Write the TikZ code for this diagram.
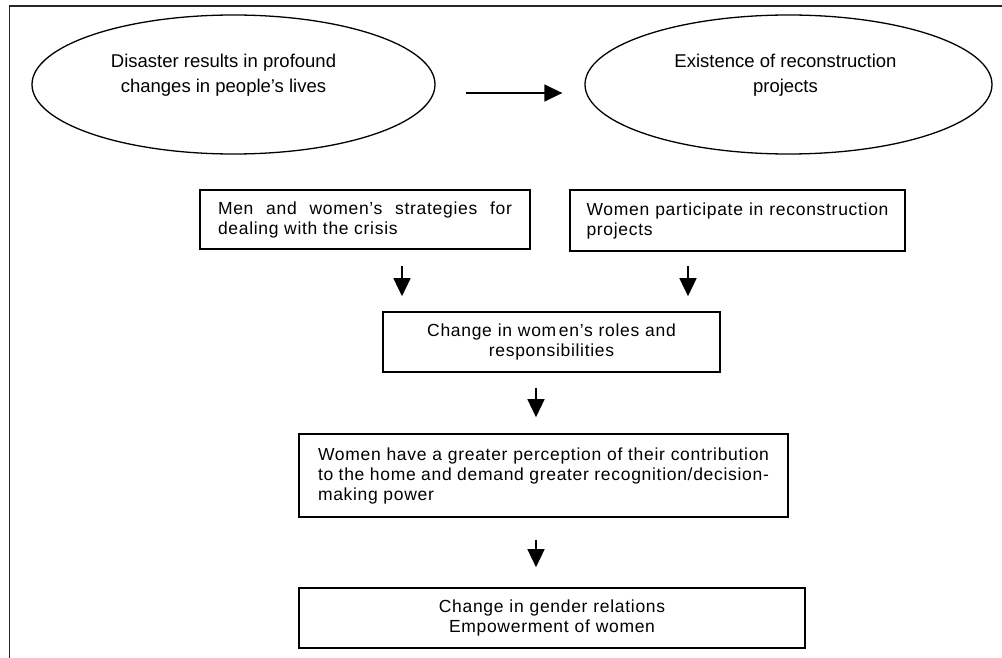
\documentclass[tikz,border=0pt]{standalone}
\usepackage{fontspec}
\setmainfont{Liberation Sans}
\newfontfamily\boxfont[LetterSpace=4]{Liberation Sans}
\usetikzlibrary{shapes.geometric,arrows.meta}
\hyphenpenalty=10000
\colorlet{lnx}{black}
\colorlet{frx}{black!85}
\tikzset{
    bubble/.style={ellipse,draw=lnx,line width=1.3pt,inner sep=0pt,minimum height=139pt},
    bubtext/.style={align=center,inner sep=0pt,font=\fontsize{18.5}{25}\selectfont},
    panel/.style={draw=lnx,line width=1.6pt,inner xsep=18pt,inner ysep=0pt,
        font=\boxfont\fontsize{17.5}{20}\selectfont},
    flow/.style={lnx,line width=1.4pt,-{Triangle[length=18pt,width=17pt]}},
    frame/.style={frx,line width=1.8pt}
}

\begin{document}
\begin{tikzpicture}[x=1pt,y=1pt]
    \useasboundingbox (0,0) rectangle (1002,-658);
    \draw [frame] (1002,-6) -- (9.5,-6) -- (9.5,-658);
    % the two ovals
    \node [bubble,minimum width=403pt] (disaster) at (233.5,-84.5) {};
    \node [bubble,minimum width=407pt] (projects) at (788.5,-84.5) {};
    \node [bubtext] at ([shift={(-10,9)}]disaster.center)
        {Disaster results in profound\\changes in people’s lives};
    \node [bubtext] at ([shift={(-3,9)}]projects.center)
        {Existence of reconstruction\\projects};
    % boxes
    \node [panel,text width=294pt,align=justify,minimum height=59pt] (strategies)
        at (365,-219.5) {Men and women’s strategies for dealing with the crisis};
    \node [panel,text width=302pt,inner xsep=16.5pt,align=justify,minimum height=61pt] (participate)
        at (737.5,-220.5) {Women participate in reconstruction projects};
    \node [panel,text width=301pt,align=center,minimum height=60pt] (roles)
        at (551.5,-342) {Change in wom\hspace{0.15em}en’s roles and\\responsibilities};
    \node [panel,text width=451pt,inner xsep=19pt,align=justify,minimum height=83pt] (perception)
        at (543.5,-475.5) {Women have a greater perception of their contribution
        to the home and demand greater recognition/decision-making power};
    \node [panel,text width=470pt,align=center,minimum height=60pt] (relations)
        at (552,-618) {Change in gender relations\\Empowerment of women};
    % arrows
    \coordinate (h1) at ([yshift=-8.5]disaster.east);
    \draw [flow,shorten <=30pt,shorten >=22pt] (h1) -- (h1 -| projects.west);
    \coordinate (a1) at ([xshift=37]strategies.south);
    \draw [flow,shorten <=16pt,shorten >=15pt] (a1) -- (a1 |- roles.north);
    \coordinate (a2) at ([xshift=-49.5]participate.south);
    \draw [flow,shorten <=14pt,shorten >=15pt] (a2) -- (a2 |- roles.north);
    \coordinate (a3) at ([xshift=-15.5]roles.south);
    \draw [flow,shorten <=15pt,shorten >=16pt] (a3) -- (a3 |- perception.north);
    \coordinate (a4) at ([xshift=-7.5]perception.south);
    \draw [flow,shorten <=22pt,shorten >=20pt] (a4) -- (a4 |- relations.north);
\end{tikzpicture}
\end{document}
